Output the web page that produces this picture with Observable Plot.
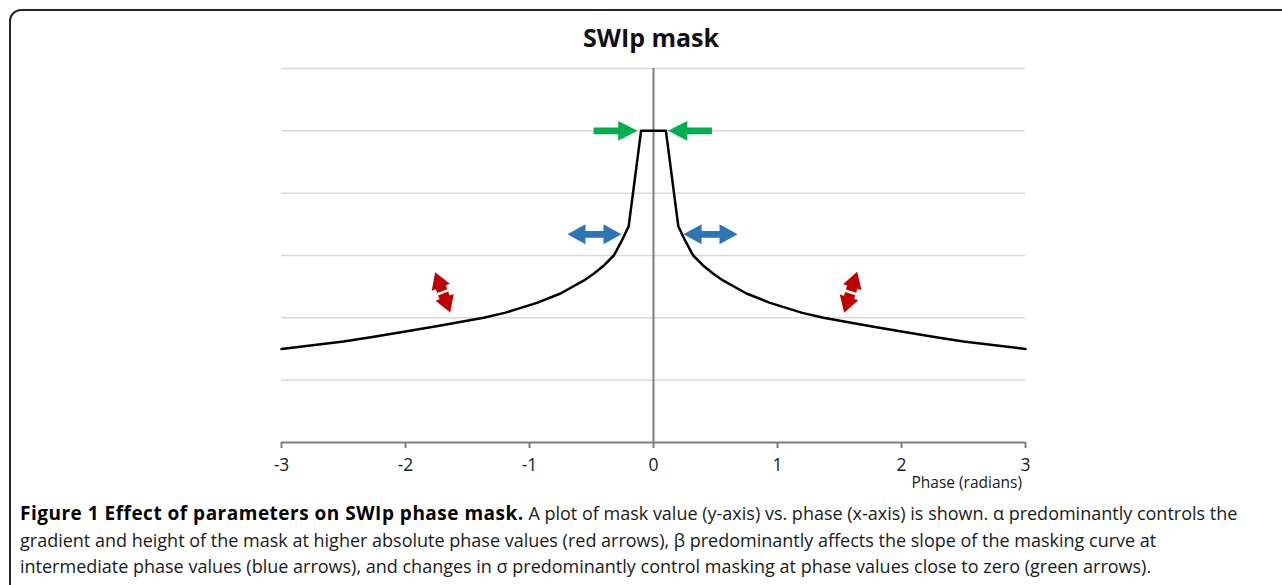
<!DOCTYPE html>
<html>
<head>
<meta charset="utf-8">
<script src="https://cdn.jsdelivr.net/npm/d3@7"></script>
<script src="https://cdn.jsdelivr.net/npm/@observablehq/plot@0.6"></script>
<style>
html, body { margin: 0; padding: 0; background: #fff; }
#page { position: relative; width: 1282px; height: 585px; overflow: hidden; background: #fff; font-family: "Open Sans", sans-serif; }
#frame { position: absolute; left: 9px; top: 9px; width: 1400px; height: 700px; border: 2px solid #262626; border-radius: 12px; box-sizing: border-box; }
#title { position: absolute; left: 0; width: 1302px; top: 20px; line-height: 34px; text-align: center; font-weight: 700; font-size: 25px; color: #111; }
#chart { position: absolute; left: 0; top: 0; }
#xlabel { position: absolute; right: 260px; top: 472px; line-height: 20px; font-size: 15.5px; color: #1a1a1a; }
#caption { position: absolute; left: 20px; top: 500px; font-size: 18px; line-height: 26.5px; color: #1a1a1a; white-space: nowrap; }
#caption b { color: #000; font-size: 19px; letter-spacing: 0.5px; }
</style>
</head>
<body>
<div id="page">
  <div id="frame"></div>
  <div id="chart"></div>
  <div id="title">SWIp mask</div>
  <div id="xlabel">Phase (radians)</div>
  <div id="caption"><b>Figure 1 Effect of parameters on SWIp phase mask.</b> A plot of mask value (y-axis) vs. phase (x-axis) is shown. α predominantly controls the<br>gradient and height of the mask at higher absolute phase values (red arrows), β predominantly affects the slope of the masking curve at<br>intermediate phase values (blue arrows), and changes in σ predominantly control masking at phase values close to zero (green arrows).</div>
</div>
<script>
// ---- data ----
const phase = [-3.0, -2.5, -2.28, -2.0, -1.74, -1.37, -1.2, -1.07, -0.94, -0.75, -0.56, -0.48, -0.4, -0.32, -0.25, -0.2, -0.1, 0,
               0.1, 0.2, 0.25, 0.32, 0.4, 0.48, 0.56, 0.75, 0.94, 1.07, 1.2, 1.37, 1.74, 2.0, 2.28, 2.5, 3.0];
const mask  = [1.50, 1.62, 1.69, 1.78, 1.87, 2.00, 2.08, 2.16, 2.24, 2.39, 2.60, 2.71, 2.84, 3.00, 3.26, 3.47, 5.00, 5.00,
               5.00, 3.47, 3.26, 3.00, 2.84, 2.71, 2.60, 2.39, 2.24, 2.16, 2.08, 2.00, 1.87, 1.78, 1.69, 1.62, 1.50];
const xTicks = [-3, -2, -1, 0, 1, 2, 3];
const gridValues = [1, 2, 3, 4, 5, 6];

// annotation arrows (centres in data units, direction in degrees)
const greenX = [-0.306, 0.294], greenY = [5, 5], greenAngle = [0, 180];
const blueX = [-0.476, 0.46], blueY = [3.34, 3.34], blueAngle = [0, 0];
const redX = [-1.70, 1.59], redY = [2.41, 2.41], redAngle = [69.4, 107.6];

// ---- arrow shapes (normalised, u along the arrow from -1 to 1) ----
const singleArrow = [[[-1, -0.15], [0.12, -0.15], [0.12, -0.45], [1, 0], [0.12, 0.45], [0.12, 0.15], [-1, 0.15]]];
const doubleArrow = [[[-1, 0], [-0.333, -0.37], [-0.333, -0.125], [0.333, -0.125], [0.333, -0.37], [1, 0],
                      [0.333, 0.37], [0.333, 0.125], [-0.333, 0.125], [-0.333, 0.37]]];
const splitArrow = [
  [[-1, 0], [-0.25, -0.45], [-0.25, -0.25], [-0.06, -0.25], [-0.06, 0.25], [-0.25, 0.25], [-0.25, 0.45]],
  [[1, 0], [0.25, 0.45], [0.25, 0.25], [0.06, 0.25], [0.06, -0.25], [0.25, -0.25], [0.25, -0.45]]
];

function arrowSymbol(rings, angleDeg) {
  const a = angleDeg * Math.PI / 180, c = Math.cos(a), s = Math.sin(a);
  return {
    draw(ctx, size) {
      const r = Math.sqrt(size / Math.PI);
      for (const ring of rings) {
        ring.forEach(([u, v], k) => {
          const px = (u * c - v * s) * r, py = (u * s + v * c) * r;
          if (k) ctx.lineTo(px, py); else ctx.moveTo(px, py);
        });
        ctx.closePath();
      }
    }
  };
}

function arrowMarks(X, Y, A, rings, r, color) {
  return X.map((x, i) => Plot.dot([i], {
    x: () => X[i], y: () => Y[i],
    symbol: arrowSymbol(rings, A[i]), r, fill: color, stroke: "none"
  }));
}

const curve = phase.map((p, i) => ({phase: p, mask: mask[i]}));

const chart = Plot.plot({
  width: 1282,
  height: 490,
  marginLeft: 281,
  marginRight: 257,
  marginTop: 68,
  marginBottom: 48,
  style: {fontFamily: '"Open Sans", sans-serif', fontSize: "17.5px", color: "#1a1a1a", background: "transparent", overflow: "visible"},
  x: {domain: [-3, 3]},
  y: {domain: [0, 6], axis: null},
  marks: [
    Plot.ruleY(gridValues, {stroke: "#d9d9d9", strokeWidth: 1.5}),
    Plot.ruleX([0], {stroke: "#7f7f7f", strokeWidth: 2}),
    Plot.ruleY([0], {stroke: "#7f7f7f", strokeWidth: 2}),
    Plot.line(curve, {x: "phase", y: "mask", stroke: "#000", strokeWidth: 2.5}),
    ...arrowMarks(greenX, greenY, greenAngle, singleArrow, 22, "#00b050"),
    ...arrowMarks(blueX, blueY, blueAngle, doubleArrow, 27, "#2e75b6"),
    ...arrowMarks(redX, redY, redAngle, splitArrow, 21.5, "#c00000"),
    Plot.axisX({ticks: xTicks, tickSize: 6, tickPadding: 10, tickFormat: d => String(d), label: null, stroke: "#7f7f7f", strokeWidth: 2})
  ]
});
document.getElementById("chart").appendChild(chart);
</script>
</body>
</html>
